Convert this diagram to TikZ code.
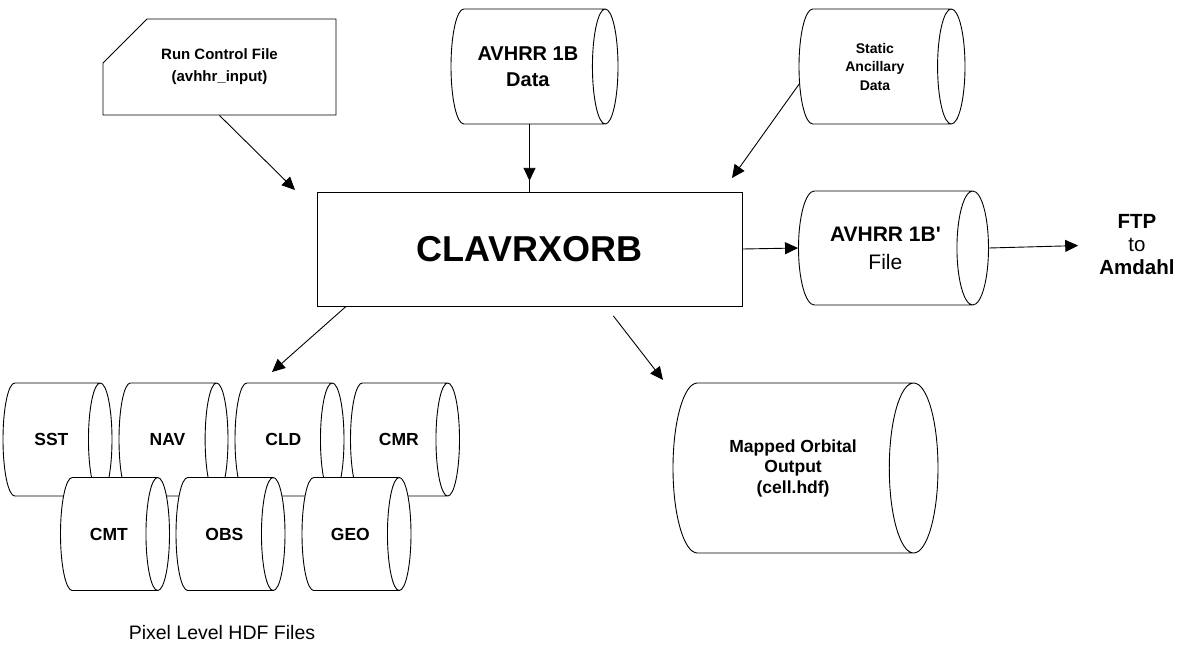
\documentclass[tikz,border=0pt]{standalone}
\usepackage{fontspec}
\setmainfont{Liberation Sans}[Ligatures=TeXOff]
\usetikzlibrary{
  positioning, arrows.meta,
  shapes.geometric, shapes.misc,
  decorations.markings
}

\tikzset{
  file/.style={cylinder, draw, fill=white, line width=0.9pt, inner sep=0pt,
    align=center, anchor=shape center},
  pixfile/.style={file, minimum height=109pt, minimum width=113pt, shape aspect=1.9,
    font=\bfseries\fontsize{17.5}{20}\selectfont},
  arr/.style={-{Triangle[length=13pt,width=12pt]}, line width=0.9pt},
  midtip/.style={line width=0.9pt, postaction={decorate},
    decoration={markings, mark=at position #1 with {\arrow{Triangle[length=13pt,width=12pt]}}}}
}

\begin{document}
\begin{tikzpicture}[x=1pt,y=-1pt]
  \useasboundingbox (0,0) rectangle (1194,648);

  % inputs
  \node[chamfered rectangle, chamfered rectangle corners=north west,
        chamfered rectangle xsep=29pt, chamfered rectangle ysep=26pt,
        draw, line width=0.9pt, inner sep=0pt, minimum width=233pt, minimum height=96pt,
        align=center, font=\bfseries\fontsize{15}{22}\selectfont]
        (card) at (219.5,67) {Run Control File\\(avhhr\_input)};
  \node[file, minimum height=167pt, minimum width=115pt, shape aspect=0.64,
        font=\bfseries\fontsize{20}{26}\selectfont]
        (data) at (534.5,66.5) {AVHRR 1B\\Data};
  \node[file, minimum height=166pt, minimum width=115pt, shape aspect=0.58,
        font=\bfseries\fontsize{14}{18.5}\selectfont]
        (static) at (882,66.5) {Static\\Ancillary\\Data};

  % main program
  \node[draw, line width=0.9pt, minimum width=425pt, minimum height=114pt,
        font=\bfseries\fontsize{36}{40}\selectfont]
        (clav) at (529.5,249) {CLAVRXORB};

  % outputs
  \node[file, minimum height=190pt, minimum width=114pt, shape aspect=0.74,
        font=\fontsize{21}{28}\selectfont]
        (prime) at (893.5,248) {\textbf{AVHRR 1B'}\\File};
  \node[align=center, inner sep=0pt, font=\fontsize{20.5}{23}\selectfont]
        (ftp) at (1137,245) {\textbf{FTP}\\to\\\textbf{Amdahl}};
  \node[file, minimum height=265pt, minimum width=170pt, shape aspect=0.85,
        font=\bfseries\fontsize{17.5}{20.5}\selectfont]
        (mapped) at (805.5,468) {Mapped Orbital\\Output\\(cell.hdf)};

  % pixel level files
  \node[pixfile] (sst) at (57.5,439.5) {SST};
  \node[pixfile] (nav) at (173.5,439.5) {NAV};
  \node[pixfile] (cld) at (289.5,439.5) {CLD};
  \node[pixfile] (cmr) at (405,439.5) {CMR};
  \node[pixfile] (cmt) at (115,534) {CMT};
  \node[pixfile] (obs) at (230.5,534) {OBS};
  \node[pixfile] (geo) at (356.5,534) {GEO};
  \node[font=\fontsize{19.5}{22}\selectfont] (pixlbl) at (222,633) {Pixel Level HDF Files};

  \coordinate (runin) at (295,190);
  \coordinate (statin) at (732,178);
  \coordinate (cldout) at ([xshift=-183.5pt]clav.south);
  \coordinate (cldin) at (272,372);
  \coordinate (mapout) at ([xshift=76.5pt]clav.south);
  \coordinate (mapin) at (663,380);

  \draw[midtip=0.84] (clav.north |- data.south) -- (clav.north);
  \path[arr]
    (card.south) edge (runin)
    (static.193) edge (statin)
    (clav.east) edge (prime.west)
    (prime.east) edge[shorten >=21pt] (ftp.west)
    (cldout) edge (cldin)
    (mapout) edge[shorten <=12pt] (mapin);
\end{tikzpicture}
\end{document}
